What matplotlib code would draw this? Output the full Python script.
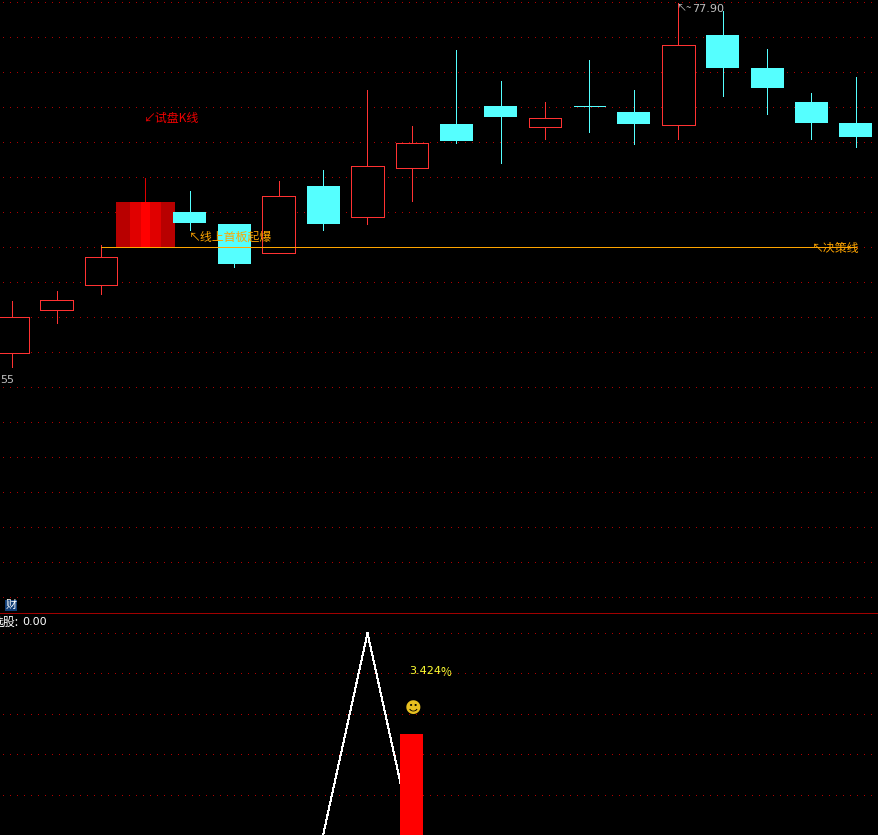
from matplotlib import pyplot as plt

plt.rcParams['font.family'] = ['Noto Sans CJK SC', 'DejaVu Sans']

# price candles
opens  = [60.40, 62.55, 63.80, 65.70, 67.45, 66.85, 65.40, 68.75, 67.20, 69.65, 71.85, 72.75, 71.70, 72.75, 72.45, 71.80, 76.30, 74.65, 72.95, 71.90]
closes = [62.20, 63.05, 65.20, 67.95, 66.90, 64.85, 68.25, 66.85, 69.75, 70.90, 71.00, 72.20, 72.15, 72.75, 71.85, 75.80, 74.65, 73.65, 71.90, 71.20]
highs  = [63.00, 63.50, 65.80, 69.15, 68.50, 66.85, 69.00, 69.55, 73.55, 71.75, 75.55, 74.00, 72.95, 75.05, 73.55, 77.90, 77.50, 75.60, 73.40, 74.20]
lows   = [59.70, 61.90, 63.35, 65.70, 66.55, 64.70, 65.40, 66.55, 66.85, 68.00, 70.90, 69.90, 71.10, 71.45, 70.85, 71.10, 73.25, 72.35, 71.10, 70.70]

# lower panel signal
line_idx = [7, 8, 9]
line_val = [0.0, 1.0, 0.0]
bar_idx = 9
bar_val = 0.5

decision_price = 65.68
price_grid = [77.93 - 1.75 * i for i in range(18)]
signal_grid = [1.0, 0.8, 0.6, 0.4, 0.2]

cyan = '#55ffff'
red = '#ff3232'
grid_red = '#b00000'
dots = (0, (1, 6))
px = 0.72  # one pixel at dpi 100

fig = plt.figure(figsize=(8.781, 8.351), dpi=100, facecolor='black')
ax = fig.add_axes([0, 222 / 835, 1, 613 / 835], facecolor='black')
ax2 = fig.add_axes([0, 0, 1, 221 / 835], facecolor='black')
for a in (ax, ax2):
    a.set_xlim(-0.277, 19.5)
    a.axis('off')
ax.set_ylim(47.40, 78.05)
ax2.set_ylim(0, 221 / 202)

for p in price_grid:
    ax.plot([-0.21, 19.5], [p, p], color=grid_red, lw=px, ls=dots, antialiased=False, zorder=1)
for v in signal_grid:
    ax2.plot([-0.21, 19.5], [v, v], color=grid_red, lw=px, ls=dots, antialiased=False, zorder=1)

# candles
for i in range(20):
    o, c, h, l = opens[i], closes[i], highs[i], lows[i]
    top, bottom = max(o, c), min(o, c)
    if i == 3:
        # the test candle is wider and shaded in stripes
        ax.vlines(i, bottom, h, color='#e00000', lw=px, antialiased=False, zorder=2)
        for width, col in [(1.33, '#b80000'), (0.70, '#e00000'), (0.22, '#ff0000')]:
            ax.bar(i, top - bottom, width, bottom, color=col, zorder=3)
    elif c > o:
        ax.vlines(i, l, h, color=red, lw=px, antialiased=False, zorder=2)
        ax.bar(i, top - bottom, 0.73, bottom, facecolor='black', edgecolor=red, lw=px,
               antialiased=False, zorder=3)
    else:
        ax.vlines(i, l, h, color=cyan, lw=px, antialiased=False, zorder=2)
        if top == bottom:
            ax.plot([i - 0.36, i + 0.36], [c, c], color=cyan, lw=px, antialiased=False, zorder=3)
        else:
            ax.bar(i, top - bottom, 0.74, bottom, color=cyan, zorder=3)

ax.plot([2, 19], [decision_price, decision_price], color='#ffa500', lw=px, antialiased=False, zorder=5)

ax.text(2.97, 72.15, '↙试盘K线', color='#f00000', fontsize=8.6, va='center', weight='medium', zorder=6)
ax.text(3.98, 66.2, '↖线上首板起爆', color='#ffa500', fontsize=8.6, va='center', weight='medium', zorder=6)
ax.text(18.0, 65.65, '↖决策线', color='#ffa500', fontsize=8.6, va='center', weight='medium', zorder=6)
ax.text(14.95, 77.68, '↖~', color='#c0c0c0', fontsize=7.2, va='center', zorder=6)
ax.text(15.32, 77.62, '77.90', color='#c0c0c0', fontsize=8, va='center', family='DejaVu Sans', zorder=6)
ax.text(-0.277, 59.05, '55', color='#c0c0c0', fontsize=8, va='center', family='DejaVu Sans', zorder=6)
ax.text(-0.15, 47.78, '财', color='white', fontsize=8, va='center', zorder=6,
        bbox=dict(facecolor='#123f78', edgecolor='none', pad=0.5))

# separator between panels
fig.add_artist(plt.Line2D([0, 1], [222 / 835, 222 / 835], color='#a00000', lw=px, antialiased=False))

ax2.plot(line_idx, line_val, color='white', lw=px, antialiased=False, zorder=3)
ax2.bar(bar_idx, bar_val, 0.52, color='#ff0000', zorder=4)
ax2.text(-0.46, 1.055, '选股:', color='white', fontsize=8.6, va='center', zorder=6)
ax2.text(0.22, 1.055, '0.00', color='white', fontsize=8, va='center', family='DejaVu Sans', zorder=6)
ax2.text(8.93, 0.812, '3.424', color='#ffff33', fontsize=8, va='center', family='DejaVu Sans', zorder=6)
ax2.text(9.65, 0.804, '%', color='#ffff33', fontsize=8.4, va='center', zorder=6)
ax2.text(9.02, 0.627, '☻', color='#e8c020', fontsize=11.5, ha='center', va='center',
         family='DejaVu Sans', zorder=6)

fig.savefig('out.png', dpi=100, facecolor='black')
